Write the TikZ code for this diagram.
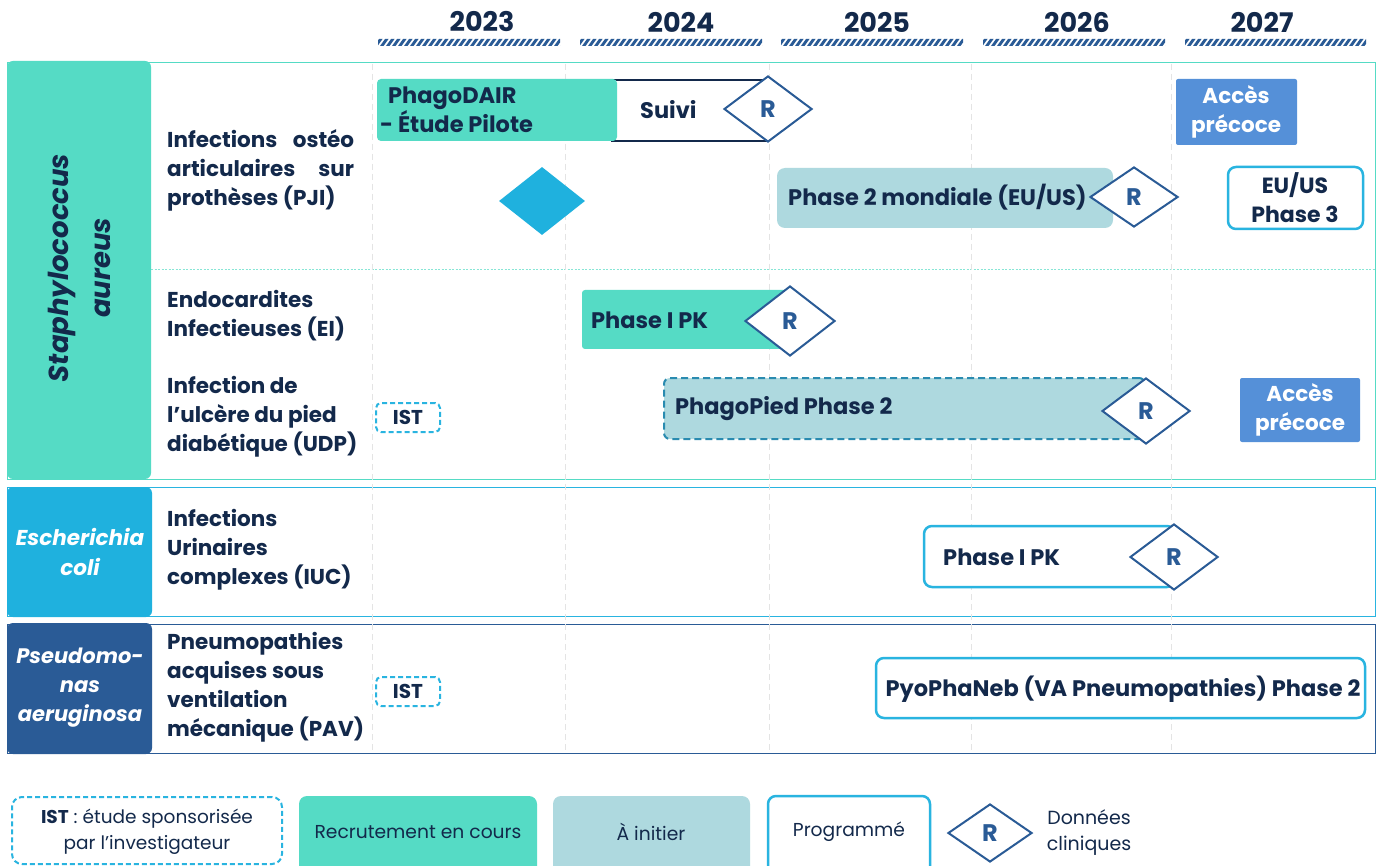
\documentclass[tikz,border=0pt]{standalone}
\usepackage{fontspec}
\setmainfont{Poppins}
\usetikzlibrary{shapes.geometric}
\definecolor{navy}{HTML}{13294B}
\definecolor{tealc}{HTML}{55DBC5}
\definecolor{gris}{HTML}{AED9DF}
\definecolor{cyanc}{HTML}{29B4E0}
\definecolor{dblue}{HTML}{2A5B96}
\definecolor{acc}{HTML}{5590D8}
\definecolor{ecoli}{HTML}{1FB1DE}
\definecolor{gridc}{HTML}{E4E4E4}
\definecolor{dashb}{HTML}{2A8BB0}
\tikzset{
  box/.style={anchor=north west, inner sep=0pt, outer sep=0pt},
  rdiam/.style={diamond, draw=dblue, line width=2pt, fill=white, inner sep=0pt,
    text=dblue, font=\bfseries\fontsize{24}{24}\selectfont},
  lbl/.style={anchor=west, align=left, text=navy, inner sep=0pt,
    font=\bfseries\fontsize{21.5}{29}\selectfont},
  bartxt/.style={anchor=west, align=left, text=navy, inner sep=0pt,
    font=\bfseries\fontsize{22.5}{27}\selectfont},
  ctxt/.style={align=center, text=navy, inner sep=0pt,
    font=\bfseries\fontsize{21.5}{29}\selectfont},
  year/.style={text=navy, inner sep=0pt, font=\bfseries\fontsize{27}{27}\selectfont},
  gridl/.style={gridc, line width=1pt, dash pattern=on 6pt off 4pt},
  progbox/.style={box, draw=cyanc, line width=2.5pt, fill=white, rounded corners=8pt},
  istbox/.style={box, draw=cyanc, line width=2pt, dash pattern=on 5pt off 3pt, fill=white, rounded corners=5pt},
  legt/.style={align=center, text=navy, inner sep=0pt, font=\fontsize{18.7}{26}\selectfont},
}
\begin{document}
\begin{tikzpicture}[x=1pt, y=-1pt]
\useasboundingbox (0,0) rectangle (1378,866);
\fill[white] (0,0) rectangle (1378,866);

% years
\node[year] (y23) at (482,22) {2023};
\node[year] (y24) at (681,22) {2024};
\node[year] (y25) at (877,22) {2025};
\node[year] (y26) at (1077,22) {2026};
\node[year] (y27) at (1262,22) {2027};
\foreach \a/\b in {378/560, 580/762, 781/963, 983/1165, 1185/1366}{
  \begin{scope}
    \clip (\a,39) rectangle (\b,46);
    \foreach \x in {0,6,...,192}{
      \fill[dblue] (\a+\x-4,46) -- (\a+\x-0.5,46) -- (\a+\x+4.5,39) -- (\a+\x+1,39) -- cycle;
    }
  \end{scope}
}

% sections
\node[box, draw=tealc, line width=1pt, minimum width=1368, minimum height=416] (staphsec) at (7,63) {};
\node[box, draw=cyanc, line width=1pt, minimum width=1368, minimum height=129] (ecolisec) at (7,487) {};
\node[box, draw=dblue, line width=1pt, minimum width=1368, minimum height=129] (pseudsec) at (7,624) {};
\draw[tealc!70, line width=1pt, dash pattern=on 2pt off 1.5pt] (151,270) -- (1375,270);

% grid lines
\foreach \gx in {372,565,769,971,1171}{
  \draw[gridl] (\gx,64) -- (\gx,752);
}

% label boxes
\node[box, fill=tealc, rounded corners=6pt, minimum width=144, minimum height=418] (staphbox) at (7,61) {};
\node[box, fill=ecoli, rounded corners=6pt, minimum width=145, minimum height=130] (ecolibox) at (7,487) {};
\node[box, fill=dblue, rounded corners=6pt, minimum width=145, minimum height=131] (pseudbox) at (7,623) {};
\node[rotate=90, align=center, text=navy, inner sep=0pt, font=\bfseries\itshape\fontsize{27.5}{42}\selectfont] (staphtxt) at (79,268) {Staphylococcus\\aureus};
\node[align=center, text=white, inner sep=0pt, font=\bfseries\itshape\fontsize{21.5}{30}\selectfont] (ecolitxt) at (80,552) {Escherichia\\coli};
\node[align=center, text=white, inner sep=0pt, font=\bfseries\itshape\fontsize{21}{29}\selectfont] (pseudtxt) at (80,688) {Pseudomo-\\nas\\aeruginosa};

% row labels
\node[lbl, text width=187pt, align=justify] (pji) at (167,170) {Infections\hfill ostéo\\articulaires\hfill sur\\prothèses (PJI)};
\node[lbl] (ei) at (167,316) {Endocardites\\Infectieuses (EI)};
\node[lbl] (udp) at (167,417) {Infection de\\l’ulcère du pied\\diabétique (UDP)};
\node[lbl] (iuc) at (167,550) {Infections\\Urinaires\\complexes (IUC)};
\node[lbl] (pav) at (167,687) {Pneumopathies\\acquises sous\\ventilation\\mécanique (PAV)};

% PJI row
\node[box, draw=navy, line width=1.5pt, fill=white, minimum width=156, minimum height=61] (suivi) at (612,80) {};
\node[box, fill=tealc, rounded corners=4pt, minimum width=240, minimum height=62] (dair) at (377,79) {};
\node[bartxt] (dairt) at (380,110) {\hspace*{8pt}PhagoDAIR\\- Étude Pilote};
\node[bartxt] (suivit) at (640,110) {Suivi};
\node[rdiam, minimum width=88pt, minimum height=66pt] (r1) at (768,109) {R};
\node[diamond, fill=ecoli, inner sep=0pt, minimum width=86pt, minimum height=68pt] (bdiam) at (542,201) {};
\node[box, fill=gris, rounded corners=8pt, minimum width=336, minimum height=60] (mond) at (777,168) {};
\node[bartxt] (mondt) at (788,197) {Phase 2 mondiale (EU/US)};
\node[rdiam, minimum width=88pt, minimum height=60pt] (r2) at (1134,197) {R};
\node[box, fill=acc, rounded corners=2pt, minimum width=121, minimum height=66] (acc1) at (1176,79) {};
\node[ctxt, text=white] (acc1t) at (1236,112) {Accès\\précoce};
\node[progbox, minimum width=135, minimum height=62] (euus) at (1228,167) {};
\node[ctxt, font=\bfseries\fontsize{22}{29}\selectfont] (euust) at (1295,198) {EU/US\\Phase 3};

% EI row
\node[box, fill=tealc, rounded corners=3pt, minimum width=208, minimum height=59] (pk1) at (582,290) {};
\node[bartxt] (pk1t) at (591,320) {Phase I PK};
\node[rdiam, minimum width=90pt, minimum height=70pt] (r3) at (790,321) {R};

% UDP row
\node[istbox, minimum width=64, minimum height=29] (ist1) at (376,403) {};
\node[ctxt, font=\bfseries\fontsize{20}{20}\selectfont] (ist1t) at (408,417) {IST};
\node[box, fill=gris, draw=dashb, line width=2pt, dash pattern=on 7pt off 4pt, rounded corners=6pt, minimum width=481, minimum height=61] (pied) at (664,378) {};
\node[bartxt] (piedt) at (675,409) {PhagoPied Phase 2};
\node[rdiam, minimum width=88pt, minimum height=66pt] (r4) at (1146,411) {R};
\node[box, fill=acc, rounded corners=2pt, minimum width=120, minimum height=64] (acc2) at (1240,378) {};
\node[ctxt, text=white] (acc2t) at (1300,410) {Accès\\précoce};

% IUC row
\node[progbox, minimum width=251, minimum height=61] (pk2) at (924,526) {};
\node[bartxt] (pk2t) at (943,557) {Phase I PK};
\node[rdiam, minimum width=88pt, minimum height=66pt] (r5) at (1174,557) {R};

% PAV row
\node[istbox, minimum width=64, minimum height=29] (ist2) at (376,677) {};
\node[ctxt, font=\bfseries\fontsize{20}{20}\selectfont] (ist2t) at (408,691) {IST};
\node[progbox, minimum width=489, minimum height=60] (pyo) at (876,658) {};
\node[ctxt, font=\bfseries\fontsize{22.5}{27}\selectfont] (pyot) at (1123,689) {PyoPhaNeb (VA Pneumopathies) Phase 2};

% legend
\node[istbox, rounded corners=10pt, minimum width=270, minimum height=67] (lgist) at (12,797) {};
\node[legt, font=\fontsize{18.5}{26}\selectfont] (lgistt) at (147,832) {\textbf{IST} : étude sponsorisée\\par l’investigateur};
\node[box, fill=tealc, rounded corners=8pt, minimum width=238, minimum height=80] (lgrec) at (299,796) {};
\node[legt] (lgrect) at (418,832) {Recrutement en cours};
\node[box, fill=gris, rounded corners=8pt, minimum width=197, minimum height=80] (lgini) at (553,796) {};
\node[legt] (lginit) at (651,832) {À initier};
\node[progbox, minimum width=162, minimum height=80] (lgprog) at (768,796) {};
\node[legt] (lgprogt) at (849,832) {Programmé};
\node[rdiam, minimum width=84pt, minimum height=58pt] (lgr) at (990,833) {R};
\node[legt, font=\fontsize{19}{26}\selectfont] (lgdon) at (1089,833) {Données\\cliniques};
\end{tikzpicture}
\end{document}
